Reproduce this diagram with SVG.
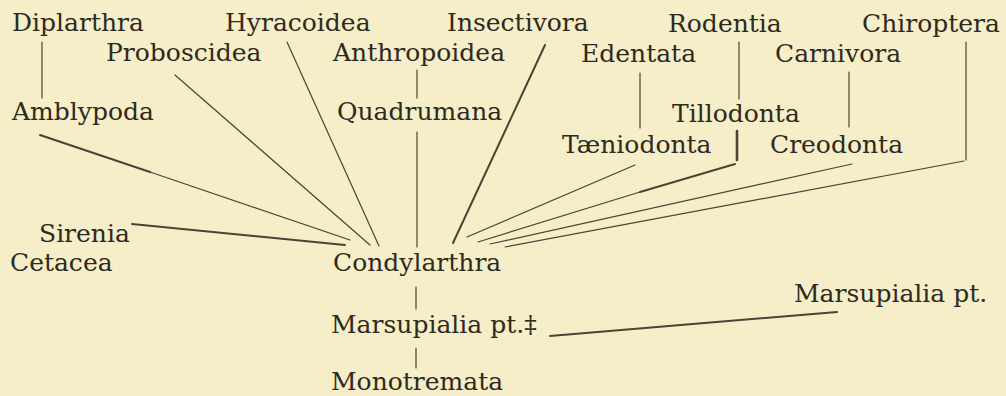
<svg xmlns="http://www.w3.org/2000/svg" width="1006" height="396" viewBox="0 0 1006 396">
<style>
  .bg { fill: #f6edc9; }
  text { font-family: "DejaVu Serif", "Liberation Serif", serif; font-size: 25px; fill: #2e2a20; }
  .ln { stroke: #4a4436; stroke-width: 1.2; fill: none; stroke-linecap: round; }
  .thick { stroke-width: 2; }
  .bar { stroke-width: 2.6; }
</style>
<rect class="bg" x="0" y="0" width="1006" height="396"/>
<g id="connectors">
  <path class="ln" d="M42 42 V98"/>
  <path class="ln" d="M417 70 V98"/>
  <path class="ln" d="M417 132 V247"/>
  <path class="ln" d="M640 73 V128"/>
  <path class="ln" d="M739 42 V99"/>
  <path class="ln" d="M849 72 V127"/>
  <path class="ln" d="M966 42 V160"/>
  <path class="ln bar" d="M737 131 V160"/>
  <path class="ln" d="M287 42 L379 246"/>
  <path class="ln" d="M175 75 L370 245"/>
  <path class="ln thick" d="M40 135 L150 172"/>
  <path class="ln" d="M150 172 L350 240"/>
  <path class="ln thick" d="M132 224 L345 245"/>
  <path class="ln thick" d="M545 45 L453 243"/>
  <path class="ln" d="M635 165 L467 237"/>
  <path class="ln thick" d="M735 164 L640 192"/>
  <path class="ln" d="M640 192 L478 242"/>
  <path class="ln" d="M852 164 L490 244"/>
  <path class="ln" d="M964 161 L505 247"/>
  <path class="ln" d="M416 287 V309"/>
  <path class="ln" d="M416 348 V368"/>
  <path class="ln thick" d="M550 336 L837 312"/>
</g>
<g id="diplarthra"><text x="12" y="31">Diplarthra</text></g>
<g id="hyracoidea"><text x="225" y="31">Hyracoidea</text></g>
<g id="insectivora"><text x="447" y="31">Insectivora</text></g>
<g id="rodentia"><text x="668" y="32">Rodentia</text></g>
<g id="chiroptera"><text x="862" y="32">Chiroptera</text></g>
<g id="proboscidea"><text x="106" y="61">Proboscidea</text></g>
<g id="anthropoidea"><text x="333" y="61">Anthropoidea</text></g>
<g id="edentata"><text x="581" y="62">Edentata</text></g>
<g id="carnivora"><text x="775" y="62">Carnivora</text></g>
<g id="amblypoda"><text x="12" y="120">Amblypoda</text></g>
<g id="quadrumana"><text x="337" y="120">Quadrumana</text></g>
<g id="tillodonta"><text x="672" y="122">Tillodonta</text></g>
<g id="taeniodonta"><text x="562" y="153">Tæniodonta</text></g>
<g id="creodonta"><text x="770" y="153">Creodonta</text></g>
<g id="sirenia"><text x="39" y="242">Sirenia</text></g>
<g id="cetacea"><text x="10" y="271">Cetacea</text></g>
<g id="condylarthra"><text x="333" y="271">Condylarthra</text></g>
<g id="marsupialia-left"><text x="331" y="333">Marsupialia pt.‡</text></g>
<g id="monotremata"><text x="331" y="390">Monotremata</text></g>
<g id="marsupialia-right"><text x="794" y="302">Marsupialia pt.</text></g>
</svg>
